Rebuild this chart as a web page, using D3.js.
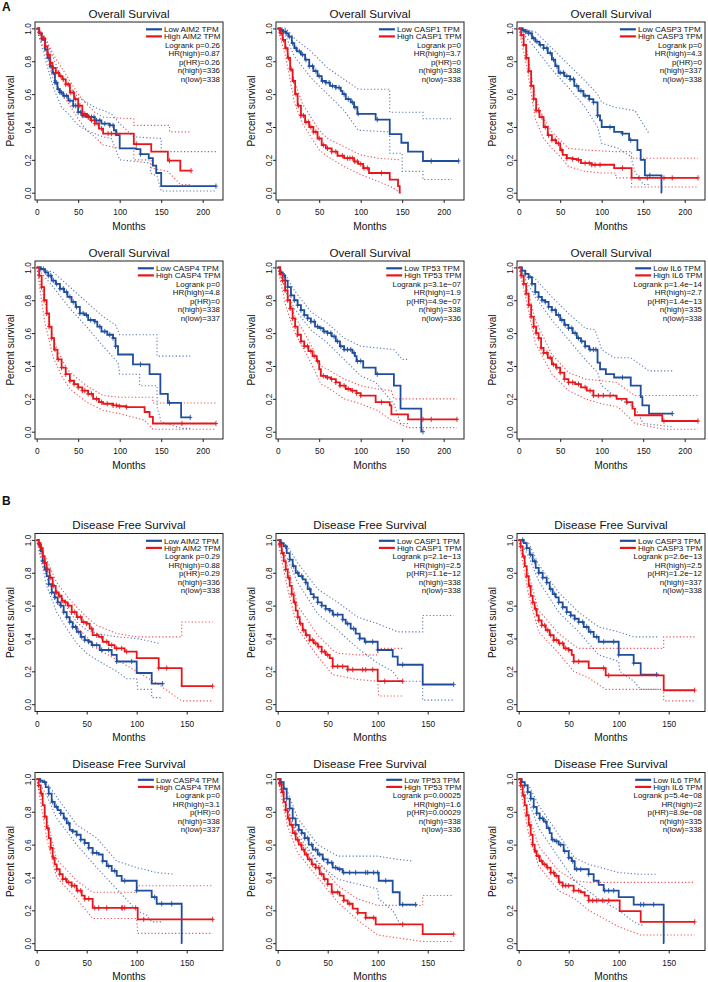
<!DOCTYPE html>
<html><head><meta charset="utf-8">
<script src="https://cdn.jsdelivr.net/npm/d3@7"></script>
<style>body{margin:0;background:#fff}svg{display:block}text{font-family:"Liberation Sans",Arial,Helvetica,sans-serif;fill:#111}</style>
</head><body><svg id="c" width="708" height="982"></svg>
<script>
// ---------------- DATA ----------------
const genes = ["AIM2","CASP1","CASP3","CASP4","TP53","IL6"];
const titles = {OS:"Overall Survival", DFS:"Disease Free Survival"};
const xTicksOS = [0,50,100,150,200];
const xTicksDFS = [0,50,100,150];
const yTicks = [0,0.2,0.4,0.6,0.8,1.0];

// stats: [logrank p, HR(high), p(HR), n(high), n(low)]
const statsOS = [
 ["0.26","0.87","0.26","336","338"],
 ["0","3.7","0","338","338"],
 ["0","4.3","0","337","338"],
 ["0","4.8","0","338","337"],
 ["3.1e\u221207","1.9","4.9e\u221207","338","336"],
 ["1.4e\u221214","2.7","1.4e\u221213","335","338"]];
const statsDFS = [
 ["0.29","0.88","0.29","336","338"],
 ["2.1e\u221213","2.5","1.1e\u221212","338","338"],
 ["2.6e\u221213","2.5","1.2e\u221212","337","338"],
 ["0","3.1","0","338","337"],
 ["0.00025","1.6","0.00029","338","336"],
 ["5.4e\u221208","2","8.9e\u221208","335","338"]];

// ---- Overall survival curves (months, survival) ----
const os_aim2_low = [[0,1],[3,0.97],[6,0.93],[10,0.87],[13,0.82],[16,0.77],[19,0.73],[22,0.67],[25,0.63],[28,0.61],[32,0.59],[38,0.56],[44,0.53],[50,0.49],[55,0.47],[62,0.46],[70,0.44],[78,0.42],[88,0.41],[93,0.38],[96,0.35],[100,0.27],[120,0.265],[125,0.235],[135,0.21],[140,0.165],[144,0.12],[150,0.04],[216,0.04]];
const os_aim2_high = [[0,1],[3,0.97],[6,0.94],[10,0.89],[13,0.84],[16,0.79],[19,0.76],[23,0.73],[27,0.71],[31,0.69],[35,0.66],[40,0.61],[45,0.57],[50,0.53],[55,0.48],[60,0.46],[65,0.44],[70,0.42],[75,0.39],[80,0.36],[117,0.296],[138,0.25],[158,0.195],[173,0.134],[186,0.134]];
const os_casp1_low = [[0,1],[3,0.99],[6,0.98],[10,0.97],[13,0.95],[17,0.91],[20,0.88],[23,0.86],[28,0.84],[33,0.81],[38,0.77],[43,0.74],[48,0.71],[53,0.68],[58,0.67],[63,0.65],[70,0.64],[76,0.62],[78,0.6],[82,0.57],[88,0.55],[92,0.52],[96,0.48],[118,0.445],[135,0.357],[149,0.304],[157,0.25],[175,0.193],[218,0.193]];
const os_casp1_high = [[0,1],[3,0.97],[6,0.93],[9,0.88],[12,0.82],[15,0.75],[18,0.68],[21,0.6],[24,0.53],[28,0.47],[33,0.43],[38,0.4],[43,0.37],[48,0.33],[53,0.29],[58,0.27],[65,0.25],[72,0.225],[80,0.21],[92,0.19],[97,0.175],[103,0.15],[110,0.12],[135,0.08],[145,0.04],[147,0],[148,0]];
const os_casp3_low = [[0,1],[4,0.99],[8,0.98],[12,0.97],[16,0.94],[20,0.92],[25,0.9],[30,0.88],[35,0.85],[40,0.81],[44,0.77],[48,0.73],[55,0.71],[62,0.69],[67,0.65],[72,0.62],[78,0.59],[85,0.57],[90,0.55],[95,0.47],[98,0.44],[100,0.4],[115,0.37],[125,0.36],[133,0.32],[143,0.26],[147,0.2],[152,0.105],[172,0],[172.5,0]];
const os_casp3_high = [[0,1],[3,0.96],[6,0.9],[9,0.82],[12,0.74],[15,0.65],[18,0.57],[21,0.5],[25,0.46],[30,0.4],[35,0.35],[40,0.32],[45,0.3],[50,0.26],[53,0.23],[58,0.21],[65,0.205],[70,0.2],[75,0.18],[88,0.17],[115,0.15],[136,0.09],[216,0.09]];
const os_casp4_low = [[0,1],[5,0.99],[10,0.97],[14,0.95],[18,0.92],[23,0.9],[28,0.87],[33,0.85],[37,0.82],[42,0.79],[47,0.76],[52,0.72],[58,0.71],[62,0.68],[70,0.67],[73,0.64],[78,0.61],[85,0.59],[92,0.57],[95,0.52],[98,0.47],[116,0.41],[136,0.35],[149,0.23],[158,0.175],[174,0.087],[185,0.087]];
const os_casp4_high = [[0,1],[3,0.95],[6,0.88],[9,0.8],[12,0.72],[15,0.64],[18,0.57],[21,0.5],[25,0.44],[30,0.39],[35,0.35],[40,0.31],[45,0.29],[50,0.27],[55,0.25],[62,0.23],[68,0.2],[75,0.18],[80,0.17],[92,0.16],[98,0.155],[108,0.15],[130,0.12],[136,0.09],[140,0.05],[216,0.05]];
const os_tp53_low = [[0,1],[3,0.97],[6,0.95],[9,0.92],[12,0.88],[16,0.83],[20,0.8],[24,0.77],[28,0.74],[32,0.71],[36,0.69],[40,0.67],[45,0.64],[50,0.63],[55,0.61],[60,0.6],[65,0.58],[70,0.55],[75,0.52],[80,0.5],[90,0.48],[93,0.46],[95,0.43],[103,0.39],[118,0.35],[140,0.28],[148,0.14],[173,0],[173.5,0]];
const os_tp53_high = [[0,1],[3,0.96],[6,0.92],[9,0.86],[12,0.8],[15,0.75],[18,0.69],[21,0.64],[24,0.59],[28,0.55],[32,0.52],[37,0.49],[42,0.46],[47,0.43],[50,0.38],[52,0.34],[58,0.33],[64,0.32],[70,0.3],[75,0.28],[82,0.26],[88,0.25],[95,0.235],[100,0.22],[118,0.18],[135,0.16],[137,0.105],[157,0.075],[216,0.075]];
const os_il6_low = [[0,1],[4,0.98],[8,0.96],[12,0.94],[16,0.9],[20,0.85],[24,0.82],[28,0.8],[32,0.79],[36,0.76],[40,0.74],[45,0.71],[50,0.68],[55,0.65],[60,0.63],[65,0.6],[70,0.57],[75,0.55],[80,0.52],[85,0.5],[95,0.42],[98,0.38],[105,0.35],[115,0.33],[135,0.28],[147,0.21],[149,0.16],[157,0.11],[185,0.11]];
const os_il6_high = [[0,1],[3,0.95],[6,0.9],[9,0.84],[12,0.77],[15,0.7],[18,0.64],[21,0.6],[24,0.57],[27,0.51],[30,0.48],[35,0.45],[40,0.41],[45,0.39],[50,0.36],[55,0.32],[60,0.3],[68,0.29],[75,0.27],[82,0.25],[90,0.22],[118,0.2],[130,0.18],[137,0.14],[140,0.1],[173,0.065],[216,0.065]];

// ---- Disease free survival curves ----
const dfs_aim2_low = [[0,1],[2,0.97],[4,0.93],[6,0.87],[8,0.82],[10,0.78],[12,0.73],[15,0.68],[18,0.65],[21,0.62],[24,0.6],[27,0.56],[30,0.53],[33,0.5],[36,0.47],[40,0.44],[44,0.41],[48,0.39],[52,0.38],[55,0.36],[63,0.33],[75,0.3],[80,0.26],[100,0.19],[115,0.125],[126,0.125]];
const dfs_aim2_high = [[0,1],[2,0.98],[4,0.95],[6,0.9],[8,0.86],[10,0.82],[13,0.77],[16,0.72],[19,0.68],[22,0.66],[25,0.63],[28,0.62],[31,0.6],[35,0.56],[40,0.53],[45,0.5],[50,0.49],[53,0.46],[56,0.42],[62,0.41],[66,0.38],[72,0.36],[78,0.34],[88,0.32],[100,0.28],[122,0.22],[145,0.11],[176,0.11]];
const dfs_casp1_low = [[0,1],[3,0.98],[6,0.96],[9,0.92],[12,0.88],[15,0.84],[18,0.8],[21,0.78],[25,0.76],[28,0.74],[30,0.7],[33,0.67],[36,0.65],[40,0.62],[44,0.6],[48,0.58],[52,0.57],[55,0.545],[65,0.515],[68,0.49],[73,0.46],[78,0.43],[82,0.4],[87,0.38],[100,0.33],[115,0.29],[120,0.24],[145,0.12],[176,0.12]];
const dfs_casp1_high = [[0,1],[2,0.97],[4,0.92],[6,0.87],[8,0.82],[10,0.77],[12,0.72],[14,0.67],[16,0.62],[18,0.57],[20,0.53],[22,0.49],[25,0.45],[28,0.42],[32,0.39],[36,0.37],[40,0.35],[44,0.32],[48,0.3],[52,0.28],[55,0.23],[70,0.21],[100,0.14],[125,0.14]];
const dfs_casp3_low = [[0,1],[5,0.98],[8,0.95],[11,0.91],[14,0.87],[17,0.83],[20,0.8],[24,0.77],[28,0.74],[31,0.7],[34,0.67],[37,0.65],[40,0.62],[44,0.59],[48,0.56],[52,0.54],[56,0.52],[60,0.5],[65,0.47],[70,0.44],[75,0.41],[80,0.38],[100,0.3],[115,0.25],[122,0.18],[140,0.18]];
const dfs_casp3_high = [[0,1],[2,0.96],[4,0.9],[6,0.84],[8,0.78],[10,0.72],[12,0.66],[14,0.62],[16,0.58],[18,0.54],[20,0.51],[23,0.48],[27,0.45],[31,0.42],[35,0.39],[40,0.37],[45,0.34],[50,0.33],[53,0.3],[55,0.26],[70,0.22],[87,0.175],[145,0.085],[176,0.085]];
const dfs_casp4_low = [[0,1],[3,0.99],[6,0.98],[9,0.95],[12,0.91],[15,0.86],[18,0.83],[21,0.81],[24,0.79],[27,0.76],[30,0.73],[33,0.69],[36,0.68],[40,0.66],[44,0.63],[48,0.61],[52,0.58],[56,0.55],[62,0.54],[66,0.5],[70,0.47],[75,0.44],[80,0.41],[85,0.38],[100,0.32],[115,0.28],[120,0.24],[145,0],[145.5,0]];
const dfs_casp4_high = [[0,1],[2,0.96],[4,0.91],[6,0.84],[8,0.77],[10,0.7],[12,0.64],[14,0.58],[16,0.52],[18,0.48],[20,0.45],[23,0.42],[26,0.39],[30,0.37],[35,0.35],[40,0.32],[45,0.29],[48,0.27],[56,0.215],[101,0.145],[176,0.145]];
const dfs_tp53_low = [[0,1],[3,0.98],[6,0.94],[9,0.88],[12,0.82],[15,0.76],[18,0.72],[21,0.69],[24,0.67],[27,0.64],[31,0.6],[35,0.57],[40,0.54],[45,0.51],[50,0.49],[55,0.46],[60,0.45],[65,0.43],[101,0.38],[115,0.31],[122,0.235],[138,0.235]];
const dfs_tp53_high = [[0,1],[2,0.97],[4,0.92],[6,0.86],[8,0.81],[10,0.76],[12,0.72],[15,0.67],[18,0.63],[21,0.6],[24,0.57],[27,0.54],[30,0.51],[34,0.48],[38,0.46],[42,0.42],[46,0.39],[50,0.36],[54,0.31],[62,0.29],[66,0.26],[70,0.24],[75,0.21],[80,0.185],[88,0.155],[98,0.115],[145,0.055],[176,0.055]];
const dfs_il6_low = [[0,1],[3,0.98],[6,0.96],[9,0.92],[12,0.88],[15,0.83],[18,0.79],[21,0.76],[25,0.74],[28,0.7],[31,0.67],[33,0.63],[36,0.62],[40,0.6],[45,0.56],[50,0.52],[53,0.5],[56,0.45],[70,0.42],[75,0.38],[80,0.355],[85,0.32],[100,0.28],[115,0.235],[145,0],[145.5,0]];
const dfs_il6_high = [[0,1],[2,0.96],[4,0.9],[6,0.84],[8,0.78],[10,0.72],[12,0.66],[14,0.6],[16,0.56],[18,0.53],[21,0.5],[24,0.48],[28,0.46],[32,0.43],[36,0.41],[40,0.37],[44,0.35],[55,0.32],[62,0.31],[66,0.29],[70,0.26],[101,0.195],[122,0.13],[176,0.13]];

// ---- 95% confidence bands [upper, lower] ----
const os_aim2_low_ci = [[[0,1],[10,0.94],[20,0.82],[30,0.7],[40,0.64],[50,0.58],[60,0.55],[70,0.52],[80,0.5],[90,0.48],[100,0.42],[117,0.34],[150,0.33],[150,0.25],[216,0.25]],
 [[0,1],[10,0.82],[20,0.64],[30,0.52],[40,0.47],[50,0.41],[60,0.38],[70,0.36],[80,0.34],[90,0.33],[100,0.2],[120,0.19],[137,0.18],[137,0.12],[145,0.1],[150,0.01],[216,0.01]]];
const os_aim2_high_ci = [[[0,1],[10,0.95],[20,0.84],[30,0.76],[40,0.68],[50,0.6],[60,0.54],[70,0.49],[80,0.46],[117,0.45],[117,0.41],[160,0.41],[160,0.37],[186,0.37]],
 [[0,1],[10,0.86],[20,0.69],[30,0.6],[40,0.53],[50,0.45],[60,0.38],[70,0.34],[80,0.29],[100,0.27],[117,0.27],[117,0.2],[138,0.2],[138,0.15],[158,0.13],[173,0.05],[186,0.05]]];
const os_casp1_low_ci = [[[0,1],[10,1],[20,0.94],[40,0.86],[60,0.76],[80,0.69],[97,0.63],[135,0.63],[135,0.49],[175,0.49],[175,0.45],[210,0.45]],
 [[0,1],[10,0.95],[20,0.83],[40,0.7],[60,0.6],[80,0.5],[97,0.38],[135,0.37],[135,0.24],[150,0.24],[150,0.13],[175,0.13],[175,0.08],[210,0.08]]];
const os_casp1_high_ci = [[[0,1],[10,0.9],[20,0.68],[30,0.54],[40,0.46],[50,0.38],[60,0.33],[80,0.28],[100,0.23],[120,0.21],[148,0.2]],
 [[0,1],[10,0.82],[20,0.55],[30,0.42],[40,0.34],[50,0.26],[60,0.22],[80,0.16],[100,0.11],[120,0.07],[135,0.04],[148,0]]];
const os_casp3_low_ci = [[[0,1],[20,0.98],[40,0.88],[60,0.78],[80,0.68],[95,0.6],[100,0.55],[115,0.52],[140,0.5],[157,0.36]],
 [[0,1],[20,0.88],[40,0.75],[60,0.64],[80,0.52],[95,0.4],[100,0.3],[120,0.27],[135,0.22],[140,0.13],[150,0.05],[157,0.05]]];
const os_casp3_high_ci = [[[0,1],[10,0.86],[20,0.58],[30,0.45],[40,0.37],[50,0.32],[60,0.27],[80,0.26],[115,0.25],[136,0.25],[136,0.21],[216,0.21]],
 [[0,1],[10,0.76],[20,0.45],[30,0.33],[40,0.27],[50,0.22],[60,0.16],[80,0.13],[100,0.12],[117,0.12],[117,0.09],[136,0.09],[136,0.035],[216,0.035]]];
const os_casp4_low_ci = [[[0,1],[20,0.97],[40,0.88],[60,0.79],[80,0.7],[95,0.65],[100,0.59],[145,0.59],[145,0.46],[185,0.46]],
 [[0,1],[20,0.88],[40,0.75],[60,0.64],[80,0.52],[98,0.42],[100,0.35],[124,0.35],[124,0.28],[145,0.28],[145,0.15],[150,0.06],[175,0.02],[185,0.02]]];
const os_casp4_high_ci = [[[0,1],[10,0.79],[20,0.56],[30,0.44],[40,0.36],[60,0.28],[80,0.22],[100,0.21],[140,0.21],[140,0.175],[216,0.175]],
 [[0,1],[10,0.66],[20,0.45],[30,0.34],[40,0.26],[60,0.18],[80,0.13],[100,0.11],[130,0.07],[140,0.015],[216,0.015]]];
const os_tp53_low_ci = [[[0,1],[10,0.95],[20,0.86],[40,0.73],[60,0.66],[80,0.57],[100,0.52],[140,0.5],[150,0.44],[157,0.44]],
 [[0,1],[10,0.86],[20,0.75],[40,0.62],[60,0.54],[80,0.44],[100,0.34],[118,0.3],[140,0.17],[148,0.05],[157,0.05]]];
const os_tp53_high_ci = [[[0,1],[10,0.86],[20,0.71],[40,0.53],[52,0.4],[60,0.38],[80,0.32],[100,0.28],[120,0.26],[137,0.25],[140,0.2],[216,0.2]],
 [[0,1],[10,0.76],[20,0.61],[40,0.42],[52,0.29],[60,0.27],[80,0.2],[100,0.17],[120,0.13],[137,0.07],[157,0.025],[216,0.025]]];
const os_il6_low_ci = [[[0,1],[20,0.93],[40,0.82],[60,0.72],[80,0.63],[92,0.62],[100,0.5],[115,0.45],[135,0.45],[157,0.37],[185,0.37]],
 [[0,1],[20,0.82],[40,0.68],[60,0.56],[80,0.44],[95,0.36],[100,0.28],[120,0.2],[140,0.15],[150,0.05],[185,0.03]]];
const os_il6_high_ci = [[[0,1],[10,0.88],[20,0.68],[40,0.47],[60,0.36],[80,0.32],[100,0.31],[118,0.3],[140,0.22],[216,0.22]],
 [[0,1],[10,0.78],[20,0.54],[40,0.35],[60,0.25],[80,0.2],[100,0.17],[120,0.15],[140,0.05],[175,0.015],[216,0.015]]];
const dfs_aim2_low_ci = [[[0,1],[10,0.84],[20,0.69],[30,0.59],[40,0.5],[50,0.45],[60,0.43],[80,0.41],[100,0.4],[123,0.37]],
 [[0,1],[10,0.72],[20,0.56],[30,0.46],[40,0.37],[50,0.31],[60,0.27],[80,0.2],[90,0.155],[100,0.155],[101,0.09],[115,0.09],[115,0.04],[126,0.04]]];
const dfs_aim2_high_ci = [[[0,1],[10,0.88],[20,0.74],[30,0.66],[40,0.59],[50,0.53],[60,0.48],[80,0.43],[100,0.41],[145,0.41],[145,0.5],[176,0.5]],
 [[0,1],[10,0.77],[20,0.63],[30,0.54],[40,0.47],[50,0.41],[60,0.34],[80,0.27],[100,0.2],[122,0.12],[145,0.02],[176,0.02]]];
const dfs_casp1_low_ci = [[[0,1],[10,0.96],[20,0.86],[40,0.7],[60,0.62],[80,0.53],[100,0.49],[120,0.44],[145,0.44],[145,0.54],[176,0.54]],
 [[0,1],[10,0.88],[20,0.74],[40,0.55],[60,0.45],[80,0.34],[100,0.25],[115,0.2],[122,0.14],[145,0.14],[145,0.025],[176,0.025]]];
const dfs_casp1_high_ci = [[[0,1],[10,0.84],[20,0.6],[40,0.42],[55,0.33],[60,0.31],[80,0.3],[100,0.3],[101,0.34],[125,0.34]],
 [[0,1],[10,0.7],[20,0.46],[40,0.29],[55,0.18],[80,0.15],[100,0.14],[101,0.05],[125,0.05]]];
const dfs_casp3_low_ci = [[[0,1],[10,0.98],[20,0.85],[40,0.68],[60,0.56],[80,0.47],[100,0.44],[115,0.41],[140,0.41]],
 [[0,1],[10,0.9],[20,0.75],[40,0.56],[60,0.44],[80,0.3],[100,0.26],[101,0.2],[115,0.14],[122,0.09],[140,0.09]]];
const dfs_casp3_high_ci = [[[0,1],[10,0.79],[20,0.57],[40,0.43],[55,0.36],[60,0.34],[145,0.34],[145,0.41],[176,0.41]],
 [[0,1],[10,0.66],[20,0.44],[40,0.31],[55,0.2],[70,0.16],[87,0.09],[145,0.09],[145,0.02],[176,0.02]]];
const dfs_casp4_low_ci = [[[0,1],[10,0.98],[20,0.89],[40,0.72],[60,0.64],[80,0.5],[100,0.46],[120,0.43],[137,0.42]],
 [[0,1],[10,0.9],[20,0.76],[40,0.6],[60,0.46],[80,0.33],[100,0.2],[110,0.17],[115,0.13],[125,0.13]]];
const dfs_casp4_high_ci = [[[0,1],[10,0.76],[20,0.51],[40,0.38],[56,0.31],[100,0.31],[101,0.35],[176,0.35]],
 [[0,1],[10,0.64],[20,0.4],[40,0.27],[56,0.15],[100,0.15],[101,0.06],[176,0.06]]];
const dfs_tp53_low_ci = [[[0,1],[10,0.92],[20,0.76],[40,0.6],[60,0.53],[100,0.53],[120,0.51],[135,0.5]],
 [[0,1],[10,0.82],[20,0.64],[40,0.49],[60,0.39],[100,0.33],[101,0.27],[115,0.2],[122,0.12],[125,0.12]]];
const dfs_tp53_high_ci = [[[0,1],[10,0.81],[20,0.66],[40,0.5],[60,0.35],[80,0.27],[100,0.23],[145,0.23],[145,0.29],[176,0.29]],
 [[0,1],[10,0.71],[20,0.55],[40,0.4],[60,0.25],[80,0.14],[100,0.05],[145,0.01],[176,0.01]]];
const dfs_il6_low_ci = [[[0,1],[10,0.96],[20,0.84],[40,0.66],[56,0.52],[70,0.48],[100,0.43],[120,0.42],[137,0.42]],
 [[0,1],[10,0.86],[20,0.7],[40,0.52],[56,0.38],[80,0.27],[100,0.2],[115,0.13],[122,0.11],[125,0.11]]];
const dfs_il6_high_ci = [[[0,1],[10,0.78],[20,0.59],[40,0.44],[56,0.38],[70,0.37],[176,0.37]],
 [[0,1],[10,0.66],[20,0.47],[40,0.32],[56,0.27],[70,0.2],[100,0.1],[122,0.05],[176,0.05]]];

// ---- censoring times (months) ----
const os_aim2_low_cens = [14,17,20,22,24,26,28,30,33,36,40,44,47,50,53,55,57,59,61,63,66,69,72,76,82,88,92,125,216];
const os_aim2_high_cens = [5,8,11,14,17,20,23,26,29,32,35,38,41,44,47,50,52,55,58,62,66,70,74,78,86,90,95,120,160,186];
const os_casp1_low_cens = [3,5,7,9,11,14,18,22,26,30,34,38,42,46,50,54,58,62,66,70,74,80,85,90,93,97,120,185,218];
const os_casp1_high_cens = [4,7,10,13,16,19,22,25,28,31,34,37,40,43,46,50,55,60,65,70,78,84,87,90,93,96,100,104,108,125];
const os_casp3_low_cens = [4,6,8,10,12,15,18,22,26,30,34,38,42,46,50,54,58,62,66,70,75,80,85,90,95,110,125,135,158];
const os_casp3_high_cens = [3,6,9,12,15,18,21,24,28,32,36,40,44,48,52,58,65,72,80,85,88,92,98,125,145,155,175,185,216];
const os_casp4_low_cens = [5,8,11,14,17,20,24,28,32,36,40,44,48,52,56,60,65,70,76,82,88,92,95,125,160,185];
const os_casp4_high_cens = [3,6,9,12,15,18,22,26,30,35,40,45,50,55,58,62,66,72,78,85,92,96,100,108,175,216];
const os_tp53_low_cens = [4,8,12,16,20,24,28,32,36,40,44,48,52,56,60,64,68,72,76,80,84,88,92,96,100,120,175];
const os_tp53_high_cens = [3,6,9,12,15,18,21,24,28,32,36,40,44,48,55,60,65,70,75,80,85,90,95,100,125,175,185,216];
const os_il6_low_cens = [4,8,12,16,20,24,28,32,36,40,44,48,52,56,60,64,68,72,76,80,86,90,93,125,185];
const os_il6_high_cens = [3,6,9,12,15,18,21,24,27,30,34,38,42,46,50,55,60,65,72,80,86,90,96,102,110,130,175,216];
const dfs_aim2_low_cens = [3,6,9,12,15,18,21,24,27,30,33,36,39,42,45,48,52,56,60,65,72,80,95,126];
const dfs_aim2_high_cens = [2,5,8,11,14,17,20,23,26,29,32,35,38,41,44,47,50,55,60,65,70,75,80,85,90,122,130,176];
const dfs_casp1_low_cens = [4,8,12,16,20,24,28,32,36,40,44,48,52,56,60,65,70,76,82,88,95,100,125,176];
const dfs_casp1_high_cens = [2,5,8,11,14,17,20,23,26,29,32,35,38,41,44,47,50,55,60,65,70,75,85,88,95,107,125];
const dfs_casp3_low_cens = [4,8,12,16,20,24,28,32,36,40,44,48,52,56,60,64,68,72,78,85,95,100,115,138];
const dfs_casp3_high_cens = [2,5,8,11,14,17,20,23,26,29,32,35,38,41,44,47,50,55,60,85,90,176];
const dfs_casp4_low_cens = [4,8,12,16,20,24,28,32,36,40,44,48,52,56,60,66,72,78,88,100,118,125,135];
const dfs_casp4_high_cens = [2,5,8,11,14,17,20,23,26,29,32,35,38,41,44,48,52,58,62,70,85,86,88,99,107,176];
const dfs_tp53_low_cens = [3,6,9,12,15,18,21,24,27,30,34,38,42,46,50,54,58,62,66,72,78,88,90,96,100,108,125,138];
const dfs_tp53_high_cens = [2,5,8,11,14,17,20,23,26,29,32,35,38,41,44,47,50,55,60,66,72,80,88,96,125,176];
const dfs_il6_low_cens = [3,6,9,12,15,18,21,24,27,30,34,38,42,46,50,54,58,62,70,86,90,95,122,125,135];
const dfs_il6_high_cens = [2,5,8,11,14,17,20,23,26,29,32,35,38,41,44,47,50,55,60,70,74,78,84,90,176];

// ---------------- PANEL TABLE ----------------
const curvesOS = [
 [os_aim2_low,os_aim2_high,os_aim2_low_ci,os_aim2_high_ci,os_aim2_low_cens,os_aim2_high_cens],
 [os_casp1_low,os_casp1_high,os_casp1_low_ci,os_casp1_high_ci,os_casp1_low_cens,os_casp1_high_cens],
 [os_casp3_low,os_casp3_high,os_casp3_low_ci,os_casp3_high_ci,os_casp3_low_cens,os_casp3_high_cens],
 [os_casp4_low,os_casp4_high,os_casp4_low_ci,os_casp4_high_ci,os_casp4_low_cens,os_casp4_high_cens],
 [os_tp53_low,os_tp53_high,os_tp53_low_ci,os_tp53_high_ci,os_tp53_low_cens,os_tp53_high_cens],
 [os_il6_low,os_il6_high,os_il6_low_ci,os_il6_high_ci,os_il6_low_cens,os_il6_high_cens]];
const curvesDFS = [
 [dfs_aim2_low,dfs_aim2_high,dfs_aim2_low_ci,dfs_aim2_high_ci,dfs_aim2_low_cens,dfs_aim2_high_cens],
 [dfs_casp1_low,dfs_casp1_high,dfs_casp1_low_ci,dfs_casp1_high_ci,dfs_casp1_low_cens,dfs_casp1_high_cens],
 [dfs_casp3_low,dfs_casp3_high,dfs_casp3_low_ci,dfs_casp3_high_ci,dfs_casp3_low_cens,dfs_casp3_high_cens],
 [dfs_casp4_low,dfs_casp4_high,dfs_casp4_low_ci,dfs_casp4_high_ci,dfs_casp4_low_cens,dfs_casp4_high_cens],
 [dfs_tp53_low,dfs_tp53_high,dfs_tp53_low_ci,dfs_tp53_high_ci,dfs_tp53_low_cens,dfs_tp53_high_cens],
 [dfs_il6_low,dfs_il6_high,dfs_il6_low_ci,dfs_il6_high_ci,dfs_il6_low_cens,dfs_il6_high_cens]];

// ---------------- DRAW ----------------
const svg = d3.select("#c");
const BLUE = "#1f4e9e", RED = "#e8161b";
const colX = [0,241,482];
const rowTop = [22,261,533.5,772.5];
const BOXW = 188, BOXH = 178;

svg.append("text").attr("x",2).attr("y",11).style("font-size","12px").style("font-weight","bold").text("A");
svg.append("text").attr("x",2).attr("y",505).style("font-size","12px").style("font-weight","bold").text("B");

function survAt(curve, t){ let s = curve[0][1]; for(const p of curve){ if(p[0] <= t) s = p[1]; else break; } return s; }

const panels = [];
genes.forEach((g,i)=>panels.push({type:"OS", gene:g, idx:i, row:Math.floor(i/3), col:i%3, c:curvesOS[i], st:statsOS[i]}));
genes.forEach((g,i)=>panels.push({type:"DFS", gene:g, idx:i, row:2+Math.floor(i/3), col:i%3, c:curvesDFS[i], st:statsDFS[i]}));

panels.forEach(p=>{
  const cx = colX[p.col], top = rowTop[p.row];
  const left = cx + 35, right = left + BOXW, bottom = top + BOXH;
  const g = svg.append("g");
  const x0 = cx + 36.7;
  const x = p.type==="OS" ? d3.scaleLinear().domain([0,200]).range([x0, x0+166])
                          : d3.scaleLinear().domain([0,150]).range([x0, x0+150]);
  const y = d3.scaleLinear().domain([0,1]).range([top+170.7, top+6.4]);
  const ticks = p.type==="OS" ? xTicksOS : xTicksDFS;

  // title
  g.append("text").attr("x",(left+right)/2).attr("y",top-8.5).attr("dy","0.35em")
    .attr("text-anchor","middle").style("font-size","11.6px").text(titles[p.type]);

  // axes
  const ax = g.append("g").attr("transform",`translate(0,${bottom})`)
    .call(d3.axisBottom(x).tickValues(ticks).tickFormat(d3.format("d")).tickSize(3).tickPadding(6.5));
  ax.select(".domain").remove();
  ax.selectAll("line").attr("stroke","#222");
  ax.selectAll("text").style("font-size","8.3px").attr("fill","#111").style("font-family","Liberation Sans, Arial, sans-serif");
  const ay = g.append("g").attr("transform",`translate(${left},0)`)
    .call(d3.axisLeft(y).tickValues(yTicks).tickFormat(d3.format(".1f")).tickSize(3));
  ay.select(".domain").remove();
  ay.selectAll("line").attr("stroke","#222");
  ay.selectAll("text").attr("x",null).attr("dy","0.35em").attr("text-anchor","middle")
    .attr("transform","translate(-6.5,0) rotate(-90)")
    .style("font-size","8.3px").attr("fill","#111").style("font-family","Liberation Sans, Arial, sans-serif");

  g.append("text").attr("x",(left+right)/2).attr("y",bottom+26).attr("dy","0.35em")
    .attr("text-anchor","middle").style("font-size","10.2px").text("Months");
  g.append("text").attr("transform",`translate(${cx+10},${(top+bottom)/2}) rotate(-90)`).attr("dy","0.35em")
    .attr("text-anchor","middle").style("font-size","10px").text("Percent survival");

  // clip
  const clipId = `clip-${p.type}-${p.idx}`;
  g.append("clipPath").attr("id",clipId).append("rect").attr("x",left).attr("y",top).attr("width",BOXW).attr("height",BOXH);
  const plot = g.append("g").attr("clip-path",`url(#${clipId})`);

  const lineLin = d3.line().x(d=>x(d[0])).y(d=>y(d[1]));
  const lineStep = d3.line().x(d=>x(d[0])).y(d=>y(d[1])).curve(d3.curveStepAfter);
  const [low, high, lowCI, highCI, lowC, highC] = p.c;

  [[lowCI,BLUE],[highCI,RED]].forEach(([ci,col])=>{
    ci.forEach(band=>{
      plot.append("path").attr("d",lineLin(band)).attr("fill","none").attr("stroke",col)
        .attr("stroke-width",1.1).attr("stroke-dasharray","1.2,2.2").attr("opacity",0.75);
    });
  });
  [[low,lowC,BLUE],[high,highC,RED]].forEach(([cv,cens,col])=>{
    plot.append("path").attr("d",lineStep(cv)).attr("fill","none").attr("stroke",col).attr("stroke-width",1.8);
    const cg = plot.append("g").attr("stroke",col).attr("stroke-width",0.9);
    cens.forEach(t=>{
      const px = x(t), py = y(survAt(cv,t));
      cg.append("line").attr("x1",px-2).attr("x2",px+2).attr("y1",py).attr("y2",py);
      cg.append("line").attr("x1",px).attr("x2",px).attr("y1",py-2.6).attr("y2",py+2.6);
    });
  });

  // box
  g.append("rect").attr("x",left).attr("y",top).attr("width",BOXW).attr("height",BOXH)
    .attr("fill","none").attr("stroke","#222").attr("stroke-width",1);

  // legend
  const labs = [[`Low ${p.gene} TPM`,BLUE],[`High ${p.gene} TPM`,RED]];
  const ly = [top+7.3, top+14.4];
  const lt = labs.map((l,k)=>g.append("text").attr("y",ly[k]).attr("dy","0.35em")
      .style("font-size","8.1px").text(l[0]));
  const maxW = d3.max(lt, t=>t.node().getComputedTextLength());
  const tx = right - 2.5 - maxW;
  lt.forEach((t,k)=>{
    t.attr("x",tx);
    g.append("line").attr("x1",tx-18).attr("x2",tx-2).attr("y1",ly[k]).attr("y2",ly[k])
      .attr("stroke",labs[k][1]).attr("stroke-width",2.2);
  });
  const statLines = [`Logrank p=${p.st[0]}`,`HR(high)=${p.st[1]}`,`p(HR)=${p.st[2]}`,`n(high)=${p.st[3]}`,`n(low)=${p.st[4]}`];
  statLines.forEach((s,k)=>{
    g.append("text").attr("x",right-3).attr("y",top+23+k*8.5).attr("dy","0.35em")
      .attr("text-anchor","end").style("font-size","7.9px").text(s);
  });
});
</script>
</body></html>
